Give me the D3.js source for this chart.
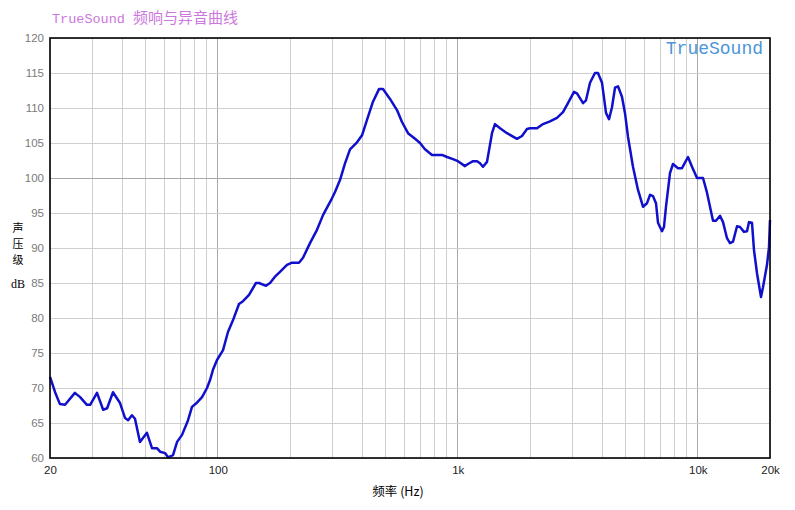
<!DOCTYPE html>
<html><head><meta charset="utf-8">
<script src="https://cdn.jsdelivr.net/npm/d3@7"></script>
<style>body{margin:0;background:#fff}svg{display:block}</style>
</head><body>
<script>
const freqs = [20,21.0,22.0,23.1,25.4,26.7,28.5,29.4,31.4,33.3,34.6,36.6,39.1,41.1,42.3,43.9,45.2,47.4,50.7,53.2,55.8,57.5,60.3,62.1,65.1,67.7,71.0,75.2,78.1,81.9,86.0,90.2,92.8,95.5,99.3,105.2,110.3,115.8,122.6,127.4,135.0,144.3,148.6,158.9,165.1,173.2,181.7,194.3,203.9,218.0,226.6,242.3,259.1,274.5,299.2,308.0,323.1,339.0,355.7,380.4,399.1,418.7,443.4,469.7,488.1,522.0,558.3,585.7,620.6,663.8,696.3,730.3,781.1,859.7,902.0,955.4,1002,1072,1103,1158,1203,1238,1274,1324,1389,1429,1500,1604,1765,1852,1943,2000,2139,2266,2423,2591,2745,2879,3051,3139,3327,3423,3557,3731,3839,3991,4147,4268,4392,4521,4652,4833,4974,5120,5372,5637,5913,6146,6325,6512,6699,6830,7096,7232,7374,7662,7886,8274,8597,9106,9464,9928,10517,10928,11247,11576,11914,12381,12743,13240,13626,14025,14574,14998,15585,16042,16352,16829,17154,17654,18345,18699,19433,19808,20000];
const spl = [71.6,69.4,67.7,67.6,69.3,68.7,67.6,67.6,69.3,66.9,67.1,69.4,67.9,65.7,65.4,66.1,65.6,62.3,63.6,61.4,61.4,60.9,60.7,60.1,60.4,62.3,63.3,65.4,67.3,67.9,68.7,70.0,71.1,72.6,74.0,75.4,78.0,79.7,82.0,82.4,83.3,85.0,85.0,84.6,85.0,85.9,86.6,87.6,87.9,87.9,88.6,90.7,92.6,94.7,97.1,98.0,99.7,102.1,104.1,105.1,106.1,108.3,110.9,112.7,112.7,111.3,109.7,108.0,106.4,105.6,105.0,104.1,103.3,103.3,103.0,102.7,102.4,101.7,102.0,102.4,102.4,102.1,101.6,102.3,106.4,107.7,107.1,106.4,105.6,106.0,107.0,107.1,107.1,107.7,108.1,108.6,109.4,110.7,112.3,112.1,110.7,111.1,113.6,115.0,115.0,113.6,109.3,108.4,110.1,112.9,113.1,111.6,109.3,105.9,101.6,98.3,95.9,96.4,97.6,97.4,96.4,93.6,92.4,93.0,95.9,100.7,102.0,101.4,101.4,103.0,101.6,100.0,100.0,97.9,95.9,93.9,93.9,94.6,93.7,91.4,90.7,90.9,93.1,93.0,92.3,92.4,93.7,93.6,89.7,86.4,83.0,84.4,87.6,90.1,94.0];
const yTicks = [60,65,70,75,80,85,90,95,100,105,110,115,120];
const xGrid = [20,30,40,50,60,70,80,90,100,200,300,400,500,600,700,800,900,1000,2000,3000,4000,5000,6000,7000,8000,9000,10000,20000];
const xDecades = [100,1000,10000];
const xTickValues = [20,100,1000,10000,20000];
const xTickText = ["20","100","1k","10k","20k"];
const titleLatin = "TrueSound";
const titleCJK = "频响与异音曲线";
const yTitleChars = ["声","压","级"];
const yTitleUnit = "dB";
const xTitle = "频率 (Hz)";
const watermark = "TrueSound";

const W = 795, H = 510;
const m = {left:50, top:38, right:25, bottom:52};
const svg = d3.select("body").append("svg").attr("width",W).attr("height",H);
const x = d3.scaleLog().domain([20,20000]).range([m.left, W-m.right]);
const y = d3.scaleLinear().domain([60,120]).range([H-m.bottom, m.top]);

const g = svg.append("g");
// grid
g.selectAll("line.vg").data(xGrid).enter().append("line")
  .attr("x1",d=>x(d)).attr("x2",d=>x(d)).attr("y1",y(60)).attr("y2",y(120))
  .attr("stroke",d=>xDecades.includes(d)?"#a8a8a8":"#cfcfcf").attr("stroke-width",1)
  .attr("shape-rendering","crispEdges");
g.selectAll("line.hg").data(yTicks).enter().append("line")
  .attr("x1",x(20)).attr("x2",x(20000)).attr("y1",d=>y(d)).attr("y2",d=>y(d))
  .attr("stroke",d=>d===100?"#a8a8a8":"#cfcfcf").attr("stroke-width",1)
  .attr("shape-rendering","crispEdges");

// curve
const line = d3.line().x((d,i)=>x(freqs[i])).y(d=>y(d));
g.append("path").datum(spl).attr("d",line).attr("fill","none")
  .attr("stroke","#1010cc").attr("stroke-width",2.5).attr("stroke-linejoin","round");

// border
g.append("rect").attr("x",x(20)).attr("y",y(120)).attr("width",x(20000)-x(20)).attr("height",y(60)-y(120))
  .attr("fill","none").attr("stroke","#000").attr("stroke-width",1.6);

// y axis labels
const ya = d3.axisLeft(y).tickValues(yTicks).tickSize(0).tickPadding(6);
const yg = svg.append("g").attr("transform",`translate(${m.left},0)`).call(ya);
yg.select(".domain").remove();
yg.selectAll("text").attr("fill","#7a7a7a").style("font-family","Arial, 'Liberation Sans', sans-serif").style("font-size","11.5px");

// x axis labels
const xa = d3.axisBottom(x).tickValues(xTickValues).tickFormat((d,i)=>xTickText[i]).tickSize(0).tickPadding(8);
const xg = svg.append("g").attr("transform",`translate(0,${H-m.bottom})`).call(xa);
xg.select(".domain").remove();
xg.selectAll("text").attr("fill","#222").style("font-family","Arial, 'Liberation Sans', sans-serif").style("font-size","11.5px");

// title
const t = svg.append("text").attr("x",52).attr("y",23).attr("fill","#cc77dd");
t.append("tspan").text(titleLatin).style("font-family","'Liberation Mono','DejaVu Sans Mono',monospace").style("font-size","13.5px");
t.append("tspan").attr("dx",8).text(titleCJK).style("font-family","'Noto Sans CJK SC',sans-serif").style("font-size","15px");

// watermark
svg.append("text").attr("x",763).attr("y",54).attr("text-anchor","end").attr("fill","#4a96d8")
  .style("font-family","'Liberation Mono','DejaVu Sans Mono',monospace").style("font-size","18px").text(watermark);

// y title (stacked characters)
svg.selectAll("text.yt").data(yTitleChars).enter().append("text").attr("class","yt")
  .attr("x",18).attr("y",(d,i)=>232+i*16).attr("text-anchor","middle").attr("fill","#000")
  .style("font-family","'Noto Sans CJK SC',sans-serif").style("font-size","11px").text(d=>d);
svg.append("text").attr("x",18).attr("y",288).attr("text-anchor","middle").attr("fill","#000")
  .style("font-family","'Liberation Serif',serif").style("font-size","12px").text(yTitleUnit);

// x title
svg.append("text").attr("x",398).attr("y",496).attr("text-anchor","middle").attr("fill","#000")
  .style("font-family","'Noto Sans CJK SC',sans-serif").style("font-size","12.5px").text(xTitle);
</script>
</body></html>
